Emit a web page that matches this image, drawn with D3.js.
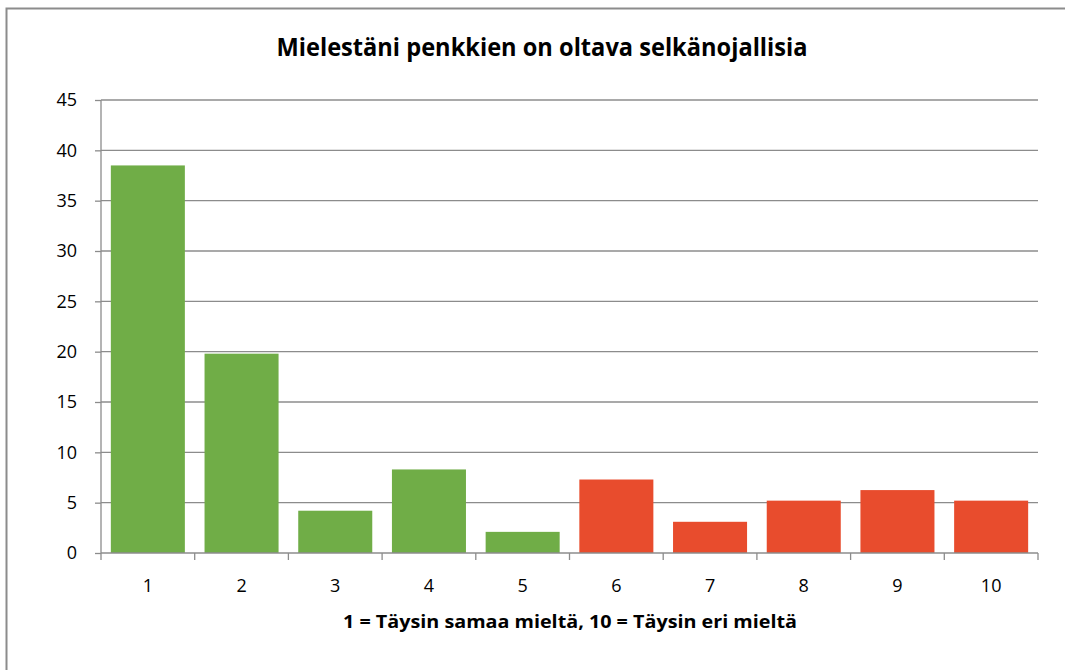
<!DOCTYPE html>
<html>
<head>
    <script src="https://cdn.jsdelivr.net/npm/d3@7"></script>
    <style>
        body { margin: 0; background: white; }
        svg { display: block; font-family: "Open Sans", "Noto Sans", sans-serif; }
        .tick text { font-size: 18px; font-family: "Open Sans", sans-serif; fill: #000; }
    </style>
</head>
<body>
    <svg width="1065" height="670"></svg>
    <script>
        // answers 1..10, share of respondents (%)
        const categories = ["1", "2", "3", "4", "5", "6", "7", "8", "9", "10"]
        const values = [38.5, 19.8, 4.2, 8.3, 2.1, 7.3, 3.1, 5.2, 6.25, 5.2]
        const yTicks = [0, 5, 10, 15, 20, 25, 30, 35, 40, 45]
        const title = "Mielestäni penkkien on oltava selkänojallisia"
        const xTitle = "1 = Täysin  samaa  mieltä, 10 = Täysin  eri mieltä"

        const svg = d3.select("svg")

        // chart frame (runs off the right and bottom edge)
        svg.append("rect")
            .attr("x", 6.5).attr("y", 8.5)
            .attr("width", 1100).attr("height", 700)
            .attr("fill", "none")
            .attr("stroke", "#8c8c8c")
            .attr("stroke-width", 2)

        const plotLeft = 101, plotRight = 1038, plotTop = 100, plotBottom = 553

        const x = d3.scaleBand()
            .domain(categories)
            .range([plotLeft, plotRight])
            .paddingInner(0.21)
            .paddingOuter(0.105)

        const y = d3.scaleLinear()
            .domain([0, 45])
            .range([plotBottom, plotTop])

        // gridlines
        svg.append("g")
            .selectAll("line")
            .data(yTicks.filter(d => d > 0))
            .enter()
            .append("line")
                .attr("x1", plotLeft).attr("x2", plotRight)
                .attr("y1", d => y(d)).attr("y2", d => y(d))
                .attr("stroke", "#8c8c8c")
                .attr("stroke-width", 1.3)

        // bars
        svg.append("g")
            .selectAll("rect")
            .data(values)
            .enter()
            .append("rect")
                .attr("x", (d, i) => x(categories[i]))
                .attr("y", d => y(d))
                .attr("width", x.bandwidth())
                .attr("height", d => plotBottom - y(d))
                .attr("fill", (d, i) => i < 5 ? "#70ad47" : "#e84c2d")

        // y axis
        const yAxis = svg.append("g")
            .attr("transform", `translate(${plotLeft},0)`)
            .call(d3.axisLeft(y).tickValues(yTicks).tickSize(6).tickPadding(18))
        yAxis.select(".domain").attr("d", `M0,${plotTop}V${plotBottom}`)

        // x axis with ticks between categories
        const xAxis = svg.append("g")
            .attr("transform", `translate(0,${plotBottom})`)
            .call(d3.axisBottom(x).tickSize(0).tickPadding(26))
        xAxis.select(".domain").remove()
        xAxis.append("line")
            .attr("x1", plotLeft).attr("x2", plotRight)
            .attr("stroke", "#8c8c8c").attr("stroke-width", 1.3)
        const step = (plotRight - plotLeft) / categories.length
        xAxis.selectAll(".sep")
            .data(d3.range(categories.length + 1))
            .enter()
            .append("line")
                .attr("class", "sep")
                .attr("x1", i => plotLeft + i * step).attr("x2", i => plotLeft + i * step)
                .attr("y1", 0).attr("y2", 7)
                .attr("stroke", "#8c8c8c").attr("stroke-width", 1.3)

        svg.selectAll(".tick line").attr("stroke", "#8c8c8c").attr("stroke-width", 1.3)
        yAxis.select(".domain").attr("stroke", "#8c8c8c").attr("stroke-width", 1.3)

        svg.append("text")
            .attr("x", 542).attr("y", 56)
            .attr("text-anchor", "middle")
            .attr("font-size", 25)
            .attr("font-weight", "bold")
            .attr("textLength", 531)
            .attr("lengthAdjust", "spacingAndGlyphs")
            .text(title)

        svg.append("text")
            .attr("x", 570).attr("y", 628)
            .attr("text-anchor", "middle")
            .attr("font-size", 17)
            .attr("font-weight", "bold")
            .attr("textLength", 454)
            .attr("lengthAdjust", "spacingAndGlyphs")
            .text(xTitle)
    </script>
</body>
</html>
